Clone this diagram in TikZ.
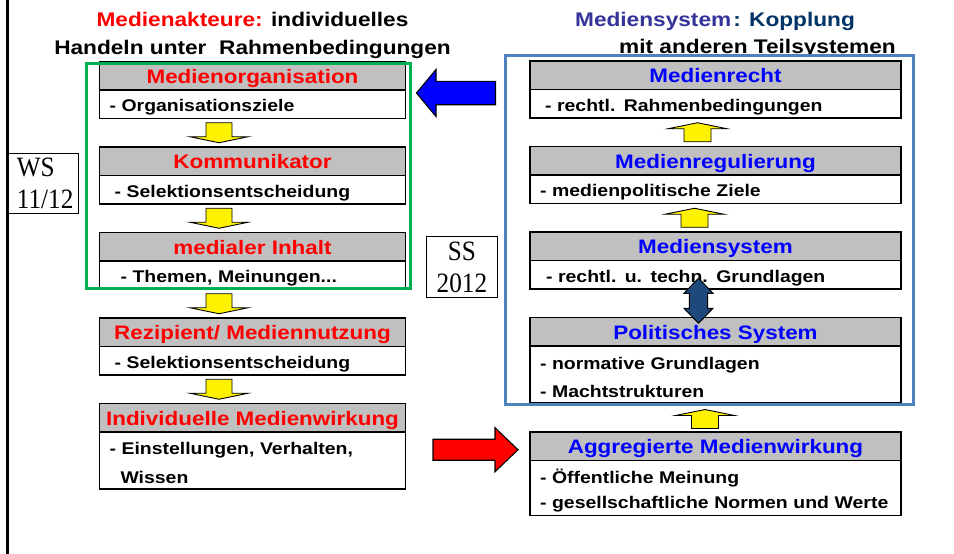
\documentclass[tikz,border=0pt]{standalone}
\usepackage{fontspec}
\setmainfont{Liberation Sans}[FakeStretch=1.15]
\newfontfamily\semfont{Liberation Serif}[FakeStretch=0.9]
\usetikzlibrary{positioning,calc}
\definecolor{hdrgray}{RGB}{192,192,192}
\definecolor{frgreen}{RGB}{0,176,80}
\definecolor{frblue}{RGB}{79,129,189}
\definecolor{sysblue}{RGB}{51,51,153}
\definecolor{kopblue}{RGB}{0,51,102}
\definecolor{dblblue}{RGB}{31,73,125}

\begin{document}
\begin{tikzpicture}[x=1pt, y=1pt,
  ttl/.style={font=\fontsize{19.7}{24}\selectfont\bfseries, inner sep=0pt, anchor=base},
  hd/.style={draw, line width=1.1pt, fill=hdrgray, minimum width=306pt, minimum height=28.5pt, inner sep=0pt, outer sep=0pt, text height=21.5pt, text depth=7pt, font=\fontsize{19.5}{23}\selectfont\bfseries},
  lhd/.style={hd, text=red},
  rhd/.style={hd, text=blue, minimum width=371pt},
  bd/.style={draw, line width=1.1pt, fill=white, minimum width=306pt, text width=286pt, inner xsep=10pt, inner ysep=0pt, outer sep=0pt, align=left, text height=21.5pt, text depth=7pt, font=\fontsize{16.9}{28}\selectfont\bfseries},
  rbd/.style={bd, minimum width=371pt, text width=351pt},
  sem/.style={draw, line width=0.8pt, inner ysep=0pt, font=\semfont\fontsize{28}{32}\selectfont, anchor=north west},
  frame/.style={line width=3pt},
  yd/.pic={\draw[line width=0.9pt, fill=yellow] (-13,10) -- (13,10) -- (13,-4) -- (29,-4) -- (0,-10) -- (-29,-4) -- (-13,-4) -- cycle;},
  yu/.pic={\draw[line width=0.9pt, fill=yellow] (-13.5,-9.5) -- (13.5,-9.5) -- (13.5,3.5) -- (29.5,3.5) -- (0,9.5) -- (-29.5,3.5) -- (-13.5,3.5) -- cycle;},
  bl/.pic={\draw[line width=1.1pt, fill=blue] (0,0) -- (19.5,23.5) -- (19.5,11.7) -- (79,11.7) -- (79,-11.7) -- (19.5,-11.7) -- (19.5,-23.5) -- cycle;},
  rr/.pic={\draw[line width=1.1pt, fill=red] (0,0) -- (-23,22) -- (-23,10.5) -- (-85,10.5) -- (-85,-10.5) -- (-23,-10.5) -- (-23,-22) -- cycle;},
  dbl/.pic={\draw[line width=1pt, fill=dblblue] (0,22.5) -- (14.5,7.5) -- (9.2,7.5) -- (9.2,-7.5) -- (14.5,-7.5) -- (0,-22.5) -- (-14.5,-7.5) -- (-9.2,-7.5) -- (-9.2,7.5) -- (-14.5,7.5) -- cycle;}
]
\useasboundingbox (0,0) rectangle (954,-554);
\draw[line width=3pt] (7.3,0) -- (7.3,-554);

% titles
\node[ttl] (akt) at (252.5,-26) {\textcolor{red}{Medienakteure:} individuelles};
\node[ttl] (akt2) at (252.5,-54) {Handeln unter\ \ Rahmenbedingungen};
\node[ttl] (msys) at (715,-26) {\textcolor{sysblue}{Mediensystem}\kern2pt\textcolor{kopblue}{: Kopplung}};
\node[ttl] (msys2) at (757.5,-53) {mit anderen Teilsystemen};

% left column
\node[lhd, anchor=north] (org) at (252.5,-61.5) {Medienorganisation};
\node[bd, below=0pt of org] (orgb) {- Organisationsziele};
\node[lhd, below=28.5pt of orgb] (kom) {Kommunikator};
\node[bd, below=0pt of kom] (komb) {\hspace*{5pt}- Selektionsentscheidung};
\node[lhd, below=28.5pt of komb] (inh) {medialer Inhalt};
\node[bd, below=0pt of inh] (inhb) {\hspace*{11pt}- Themen, Meinungen...};
\node[lhd, below=28.5pt of inhb] (rez) {Rezipient/ Mediennutzung};
\node[bd, below=0pt of rez] (rezb) {\hspace*{5pt}- Selektionsentscheidung};
\node[lhd, below=28.5pt of rezb] (wirk) {Individuelle Medienwirkung};
\node[bd, below=0pt of wirk, minimum height=57pt, text height=22pt, text depth=35pt] (wirkb) {- Einstellungen, Verhalten,\\[1pt]\hspace*{11pt}Wissen};

% right column
\node[rhd, anchor=north] (recht) at (715.5,-61) {Medienrecht};
\node[rbd, below=0pt of recht] (rechtb) {\hspace*{5pt}- rechtl. Rahmenbedingungen};
\node[rhd, below=28.5pt of rechtb] (reg) {Medienregulierung};
\node[rbd, below=0pt of reg] (regb) {- medienpolitische Ziele};
\node[rhd, below=28.5pt of regb] (sys) {Mediensystem};
\node[rbd, below=0pt of sys] (sysb) {\hspace*{6pt}- rechtl. u. techn. Grundlagen};
\node[rhd, below=28.5pt of sysb] (pol) {Politisches System};
\node[rbd, below=0pt of pol, minimum height=57pt, text height=23pt, text depth=34pt] (polb) {- normative Grundlagen\\- Machtstrukturen};
\node[rhd, below=29pt of polb] (agg) {Aggregierte Medienwirkung};
\node[rbd, below=0pt of agg, minimum height=55pt, text height=22.5pt, text depth=32.5pt] (aggb) {- Öffentliche Meinung\\[-3pt]- gesellschaftliche Normen und Werte};

% semester boxes
\node[sem, text width=53pt, inner xsep=8.5pt, align=left, minimum height=60pt] (ws) at (8,-153) {WS\\11/12};
\node[sem, inner xsep=0pt, align=center, minimum width=71pt, minimum height=61pt] (ss) at (426,-236) {SS\\2012};

% frames
\draw[frame, frgreen] (86.3,-63.3) rectangle (410,-288.8);
\draw[frame, frblue] (505,-55.5) rectangle (913.5,-404.5);

% block arrows
\pic at ($(orgb.south)!.5!(kom.north)+(-33.5,0)$) {yd};
\pic at ($(komb.south)!.5!(inh.north)+(-33.5,0)$) {yd};
\pic at ($(inhb.south)!.5!(rez.north)+(-33.5,0)$) {yd};
\pic at ($(rezb.south)!.5!(wirk.north)+(-33.5,0)$) {yd};
\pic at ($(rechtb.south)!.5!(reg.north)+(-18,0)$) {yu};
\pic at ($(regb.south)!.5!(sys.north)+(-21,0)$) {yu};
\pic at ($(polb.south)!.5!(agg.north)+(-10.5,-1.5)$) {yu};
\pic at ($(sysb.south)!.5!(pol.north)+(-17,2.5)$) {dbl};
\pic at ($(orgb.north east)+(11,-3)$) {bl};
\pic at ($(agg.west)+(-12,-3.5)$) {rr};
\end{tikzpicture}
\end{document}
